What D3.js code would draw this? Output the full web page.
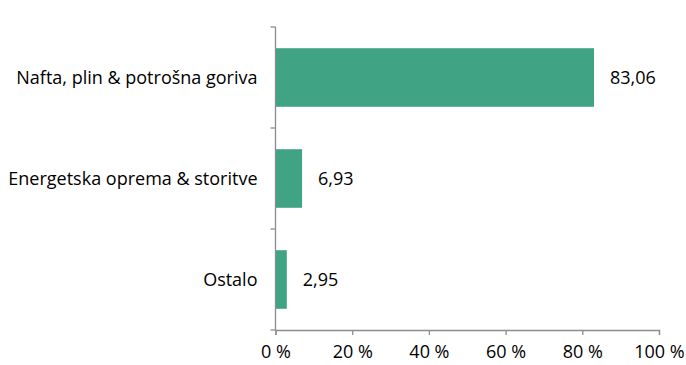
<!DOCTYPE html>
<html>
<head>
<meta charset="utf-8">
<script src="https://cdn.jsdelivr.net/npm/d3@7"></script>
<style>
  html, body { margin: 0; padding: 0; background: #fff; }
  svg text { font-family: "Open Sans", "Liberation Sans", sans-serif; fill: #000; }
</style>
</head>
<body>
<svg id="chart" width="686" height="365"></svg>
<script>
// Sector breakdown, percentage share
const categories = ["Nafta, plin & potrošna goriva", "Energetska oprema & storitve", "Ostalo"];
const values = [83.06, 6.93, 2.95];
const xTicks = [0, 20, 40, 60, 80, 100];

const svg = d3.select("#chart");
const margin = { left: 275.5, right: 27, top: 27, bottom: 35 };
const W = 686, H = 365;
const FS = 18;

const x = d3.scaleLinear().domain([0, 100]).range([margin.left, W - margin.right]);
const y = d3.scaleBand().domain(categories).range([margin.top, H - margin.bottom]).paddingInner(0.42).paddingOuter(0.21);

const fmt = v => v.toFixed(2).replace(".", ",");

// bars
svg.append("g").selectAll("rect").data(values).join("rect")
  .attr("x", x(0))
  .attr("y", (d, i) => y(categories[i]))
  .attr("width", d => x(d) - x(0))
  .attr("height", y.bandwidth())
  .attr("fill", "#40a383");

// value labels
svg.append("g").selectAll("text").data(values).join("text")
  .attr("x", d => x(d) + 16)
  .attr("y", (d, i) => y(categories[i]) + y.bandwidth() / 2)
  .attr("dy", "0.35em")
  .attr("font-size", FS)
  .text(fmt);

// x axis
const xAxis = d3.axisBottom(x).tickValues(xTicks).tickSize(5).tickFormat(d => d + " %");
const gx = svg.append("g").attr("transform", `translate(0,${H - margin.bottom})`).call(xAxis);
gx.select(".domain").attr("stroke", "#8c8c8c").attr("stroke-width", 1.3);
gx.selectAll(".tick line").attr("stroke", "#8c8c8c").attr("stroke-width", 1.3);
gx.selectAll(".tick text").attr("font-size", FS).attr("y", 22).attr("dy", "0.35em")
  .attr("font-family", "\"Open Sans\", sans-serif").attr("fill", "#000");

// y axis: ticks sit on the boundaries between categories
const bounds = d3.range(categories.length + 1).map(i => margin.top + i * y.step());
const gy = svg.append("g");
gy.append("line")
  .attr("x1", x(0)).attr("x2", x(0))
  .attr("y1", margin.top).attr("y2", H - margin.bottom)
  .attr("stroke", "#8c8c8c").attr("stroke-width", 1.3);
gy.selectAll("line.tk").data(bounds).join("line").attr("class", "tk")
  .attr("x1", x(0) - 5).attr("x2", x(0))
  .attr("y1", d => d).attr("y2", d => d)
  .attr("stroke", "#8c8c8c").attr("stroke-width", 1.3);
gy.selectAll("text").data(categories).join("text")
  .attr("x", x(0) - 18)
  .attr("y", d => y(d) + y.bandwidth() / 2)
  .attr("dy", "0.35em")
  .attr("text-anchor", "end")
  .attr("font-size", FS)
  .text(d => d);
</script>
</body>
</html>
